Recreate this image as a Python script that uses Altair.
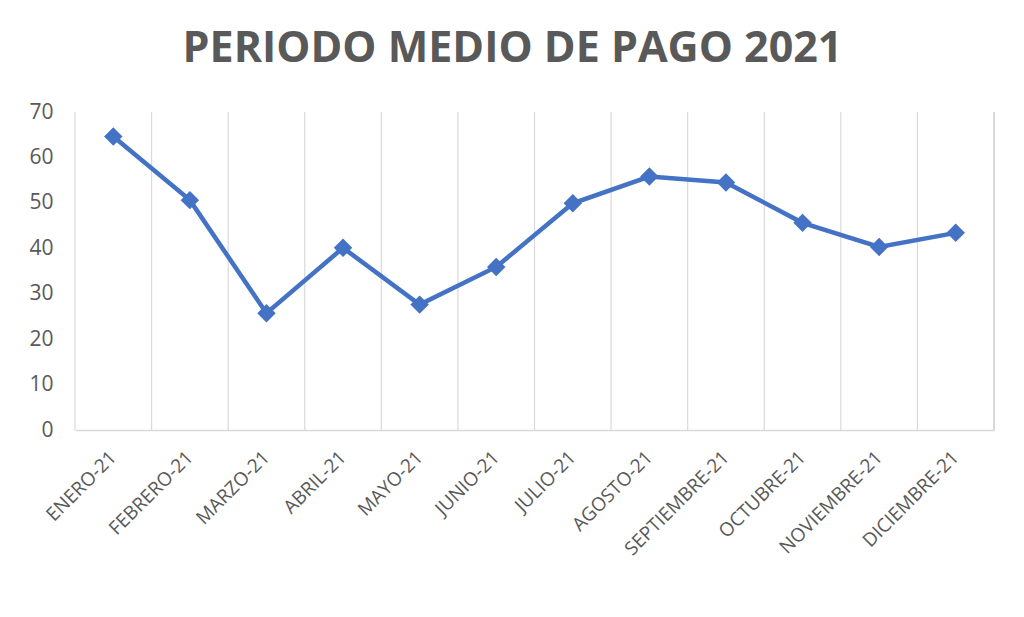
import altair as alt
import pandas as pd

meses = ["ENERO-21", "FEBRERO-21", "MARZO-21", "ABRIL-21", "MAYO-21", "JUNIO-21",
         "JULIO-21", "AGOSTO-21", "SEPTIEMBRE-21", "OCTUBRE-21", "NOVIEMBRE-21", "DICIEMBRE-21"]
valores = [64.6, 50.6, 25.7, 40.1, 27.6, 35.9, 49.9, 55.8, 54.5, 45.6, 40.3, 43.4]

df = pd.DataFrame({"mes": meses, "valor": valores})

W, H = 919, 318
GRIS = "#595959"
GRID = "#D9D9D9"
AZUL = "#4472C4"

xscale = alt.Scale(type="band", domain=meses, paddingInner=0, paddingOuter=0)
xaxis = alt.Axis(labelAngle=-45, labelAlign="right", labelBaseline="middle",
                 labelFontSize=19, labelColor=GRIS, labelFont="Open Sans",
                 labelPadding=24, ticks=False, domainColor=GRID, domainWidth=1.5,
                 grid=False, labelOverlap=False, title=None)

base = alt.Chart(df)

rules = base.mark_rule(color=GRID, strokeWidth=1.2).encode(
    x=alt.X("mes:N", scale=xscale, bandPosition=0, axis=xaxis, title=None),
)

right_rule = base.mark_rule(color=GRID, strokeWidth=1.2).encode(
    x=alt.value(W),
)

line = base.mark_line(
    color=AZUL, strokeWidth=4.5,
    point=alt.OverlayMarkDef(shape="diamond", size=340, filled=True, color=AZUL, opacity=1),
).encode(
    x=alt.X("mes:N", scale=xscale, bandPosition=0.5, title=None, axis=xaxis),
    y=alt.Y("valor:Q", title=None,
            scale=alt.Scale(domain=[0, 70], nice=False),
            axis=alt.Axis(values=[0, 10, 20, 30, 40, 50, 60, 70], labelFontSize=21,
                          labelColor=GRIS, labelFont="Open Sans", labelPadding=22,
                          ticks=False, domain=False, grid=False)),
)

chart = alt.layer(rules, right_rule, line).properties(
    width=W, height=H,
    title=alt.TitleParams("PERIODO MEDIO DE PAGO 2021", fontSize=43, font="Open Sans",
                          fontWeight="bold", color=GRIS, anchor="middle", dx=-22,
                          offset=30),
    autosize=alt.AutoSizeParams(type="none"),
    padding={"left": 67, "top": 104, "right": 14, "bottom": 179},
).configure_view(stroke=None)

chart.save("out.html", embed_options={"renderer": "svg", "actions": False})
